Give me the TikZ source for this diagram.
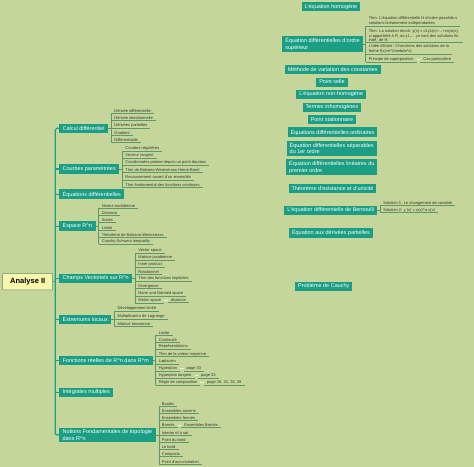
\documentclass[tikz,border=0pt]{standalone}
\usepackage{fontspec}
\setmainfont{Liberation Sans}
\usepackage{tikz}
\usetikzlibrary{
	positioning
}

\definecolor{mapbg}{RGB}{197,214,155}
\definecolor{topicteal}{RGB}{27,158,131}
\definecolor{rootyellow}{RGB}{251,247,170}
\definecolor{leafgreen}{RGB}{96,150,104}
\definecolor{leafink}{RGB}{52,56,44}

\tikzset{
	root/.style={draw=topicteal!45!gray, line width=0.9pt, fill=rootyellow, rounded corners=1.5pt,
		minimum width=100pt, minimum height=33pt, font=\fontsize{15}{18}\selectfont\bfseries},
	topic/.style={fill=topicteal, text=white, anchor=west, inner xsep=7pt, inner ysep=3.5pt,
		minimum height=19pt, align=left, font=\fontsize{11}{13}\selectfont},
	freetopic/.style={topic, anchor=center, inner xsep=6pt, minimum height=18pt},
	leafline/.style={draw=leafgreen, line width=1.1pt},
	leaf/.style={anchor=south west, inner xsep=6pt, inner ysep=1.5pt, text=leafink, align=left,
		font=\fontsize{8}{9}\selectfont,
		append after command={(\tikzlastnode.south west) edge[leafline] (\tikzlastnode.south east)}},
	trunk/.style={draw=topicteal, line width=2.4pt},
	subline/.style={draw=white!75!mapbg, line width=1.6pt}
}

\begin{document}
\begin{tikzpicture}[x=2pt, y=-2pt]
	\path[use as bounding box, fill=mapbg] (0,0) rectangle (474,467);

	% central topic and main branches
	\node[root] (an) at (27.7,281.7) {Analyse II};
	\coordinate (tk) at (55.3,281.7);
	\node[topic] (cd) at (59,128.3) {Calcul différentiel};
	\node[topic] (cp) at (59,169)   {Courbes paramétrées};
	\node[topic] (ed) at (59,194.2) {Équations différentielles};
	\node[topic] (er) at (59,226.2) {Espace R\textasciicircum{}n};
	\node[topic] (cv) at (59,278.3) {Champs Vectoriels sur R\textasciicircum{}n};
	\node[topic] (el) at (59,319.5) {Extremums locaux};
	\node[topic] (fr) at (59,360.5) {Fonctions réelles de R\textasciicircum{}n dans R\textasciicircum{}m};
	\node[topic] (im) at (59,392.3) {Intégrales multiples};
	\node[topic] (nf) at (59,435)   {Notions Fondamentales de topologie\\dans R\textasciicircum{}n};

	\draw[trunk, rounded corners=3pt] (cd.west) -- (tk |- cd.west) -- (tk |- nf.west) -- (nf.west);
	\draw[trunk] (an.east) -- (tk);
	\foreach \n in {cp,ed,er,cv,el,fr,im}
		\draw[trunk] (tk |- \n.west) -- (\n.west);

	% Calcul différentiel
	\path (cd.east) ++(6pt,0) coordinate (cdb);
	\foreach \t [count=\i, evaluate=\i as \y using 105.97+7.33*\i] in
		{Dérivée différentielle, Dérivée directionnelle, Dérivées partielles, Gradient, Différentiable}
		\node[leaf] (cd\i) at (cdb |- 0,\y) {\t};
	\draw[leafline] (cd.east) -- (cdb |- cd.east) (cd1.south west) -- (cd5.south west);

	% Courbes paramétrées
	\path (cp.east) ++(6pt,0) coordinate (cpb);
	\foreach \t [count=\i, evaluate=\i as \y using 143.8+7.2*\i] in
		{Courbes régulières, Vecteur tangent, Coordonnées polaire depuis un point douteux,
		 Thm de Bolzano-Weierstrass-Heine-Borel, Recouvrement ouvert d'un ensemble,
		 Thm fondamental des fonctions continues}
		\node[leaf] (cp\i) at (cpb |- 0,\y) {\t};
	\draw[leafline] (cp.east) -- (cpb |- cp.east) (cp1.south west) -- (cp6.south west);

	% Espace R^n
	\path (er.east) ++(6pt,0) coordinate (erb);
	\foreach \t [count=\i, evaluate=\i as \y using 201.1+7.2*\i] in
		{Norme euclidienne, Distance, Suites, Limite, Théorème de Bolzano-Weierstrass,
		 Cauchy-Schwarz inequality}
		\node[leaf] (er\i) at (erb |- 0,\y) {\t};
	\draw[leafline] (er.east) -- (erb |- er.east) (er1.south west) -- (er6.south west);

	% Champs Vectoriels
	\path (cv.east) ++(6pt,0) coordinate (cvb);
	\foreach \t [count=\i, evaluate=\i as \y using 245.85+7.15*\i] in
		{Vector space, Matrice jacobienne, Inner product, Rotationnel, Thm des fonctions implicites,
		 Divergence, Norm and Normed space, Metric space}
		\node[leaf] (cv\i) at (cvb |- 0,\y) {\t};
	\draw[leafline] (cv.east) -- (cvb |- cv.east) (cv1.south west) -- (cv8.south west);
	\node[leaf, right=7pt of cv8] (cvd) {distance};
	\draw[subline] (cv8) -- (cvd);

	% Extremums locaux
	\path (el.east) ++(6pt,0) coordinate (elb);
	\foreach \t [count=\i, evaluate=\i as \y using 304.25+7.35*\i] in
		{Développement limité, Multiplicateur de Lagrange, Matrice hessienne}
		\node[leaf] (el\i) at (elb |- 0,\y) {\t};
	\draw[leafline] (el.east) -- (elb |- el.east) (el1.south west) -- (el3.south west);

	% Fonctions réelles
	\path (fr.east) ++(6pt,0) coordinate (frb);
	\foreach \t [count=\i, evaluate=\i as \y using 328.15+7.15*\i] in
		{Limite, Continuité, Représentations, Thm de la valeur moyenne, Laplacien, Hyperplan,
		 Hyperplan tangent, Règle de composition}
		\node[leaf] (fr\i) at (frb |- 0,\y) {\t};
	\draw[leafline] (fr.east) -- (frb |- fr.east) (fr1.south west) -- (fr8.south west);
	\node[leaf, right=7pt of fr6] (frp1) {page 33};
	\node[leaf, right=7pt of fr7] (frp2) {page 33};
	\node[leaf, right=7pt of fr8] (frp3) {page 26, 32, 35, 39};
	\draw[subline] (fr6) -- (frp1) (fr7) -- (frp2) (fr8) -- (frp3);

	% Notions Fondamentales
	\path (nf.east) ++(6pt,0) coordinate (nfb);
	\foreach \t [count=\i, evaluate=\i as \y using 398.75+7.25*\i] in
		{Boules, Ensembles ouverts, Ensembles fermés, Bornés, Interior of a set, Point du bord,
		 Le bord, Compacts, Point d'accumulation}
		\node[leaf] (nf\i) at (nfb |- 0,\y) {\t};
	\draw[leafline] (nf.east) -- (nfb |- nf.east) (nf1.south west) -- (nf9.south west);
	\node[leaf, right=7pt of nf4] (nfe) {Ensembles Bornés};
	\draw[subline] (nf4) -- (nfe);

	% floating topics
	\node[freetopic] (he) at (331,7)       {L'équation homogène};
	\node[freetopic] (os) at (322.5,44)    {Équation différentielles d'ordre\\supérieur};
	\node[freetopic] (mv) at (332.7,69.5)  {Méthode de variation des constantes};
	\node[freetopic] (ps) at (332,82)      {Point selle};
	\node[freetopic] (nh) at (331.3,94.5)  {L'équation non-homogène};
	\node[freetopic] (ti) at (332,107.2)   {Termes inhomogènes};
	\node[freetopic] (pt) at (332,119.7)   {Point stationnaire};
	\node[freetopic] (eo) at (332.5,132.2) {Équations différentielles ordinaires};
	\node[freetopic] (es) at (331.7,148.2) {Équation différentielles séparables\\du 1er ordre};
	\node[freetopic] (lp) at (331.8,167)   {Équation différentielles linéaires du\\premier ordre};
	\node[freetopic] (te) at (332.5,188.3) {Théorème d'existance et d'unicité};
	\node[freetopic] (eb) at (330.8,210)   {L'équation différentielle de Bernoulli};
	\node[freetopic] (ep) at (331,232.8)   {Équation aux dérivées partielles};
	\node[freetopic] (pc) at (323.8,286.2) {Problème de Cauchy};

	% ordre supérieur
	\path (os.east) ++(6pt,0) coordinate (osb);
	\node[leaf] (os1) at (osb |- 0,26)   {Thm: L'équation différentielle H d'ordre possède n\\solutions linéairement indépendantes};
	\node[leaf] (os2) at (osb |- 0,42.5) {Thm: La solution réunit: y(x) = c1y1(x)+...+cnyn(x),\\ci appartient à R, où y1,... yn sont des solutions lin.\\indé. de H.};
	\node[leaf] (os3) at (osb |- 0,54)   {L'idée d'Euler: Cherchons des solutions de la\\forme f(x)=e\textasciicircum{}(lambda*x)};
	\node[leaf] (os4) at (osb |- 0,62)   {Principe de superposition};
	\draw[leafline] (os.east) -- (osb |- os.east) (os1.south west) -- (os4.south west);
	\node[leaf, right=7pt of os4] (osc) {Cas particuliere};
	\draw[subline] (os4) -- (osc);

	% Bernoulli
	\path (eb.east) ++(6pt,0) coordinate (ebb);
	\node[leaf] (eb1) at (ebb |- 0,205.7) {Solution 1: Le changement de variable};
	\node[leaf] (eb2) at (ebb |- 0,212.7) {Solution 2: y (x) = u(x)\textasciicircum{}a v(x)};
	\draw[leafline] (eb.east) -- (ebb |- eb.east) (eb1.south west) -- (eb2.south west);
\end{tikzpicture}
\end{document}
